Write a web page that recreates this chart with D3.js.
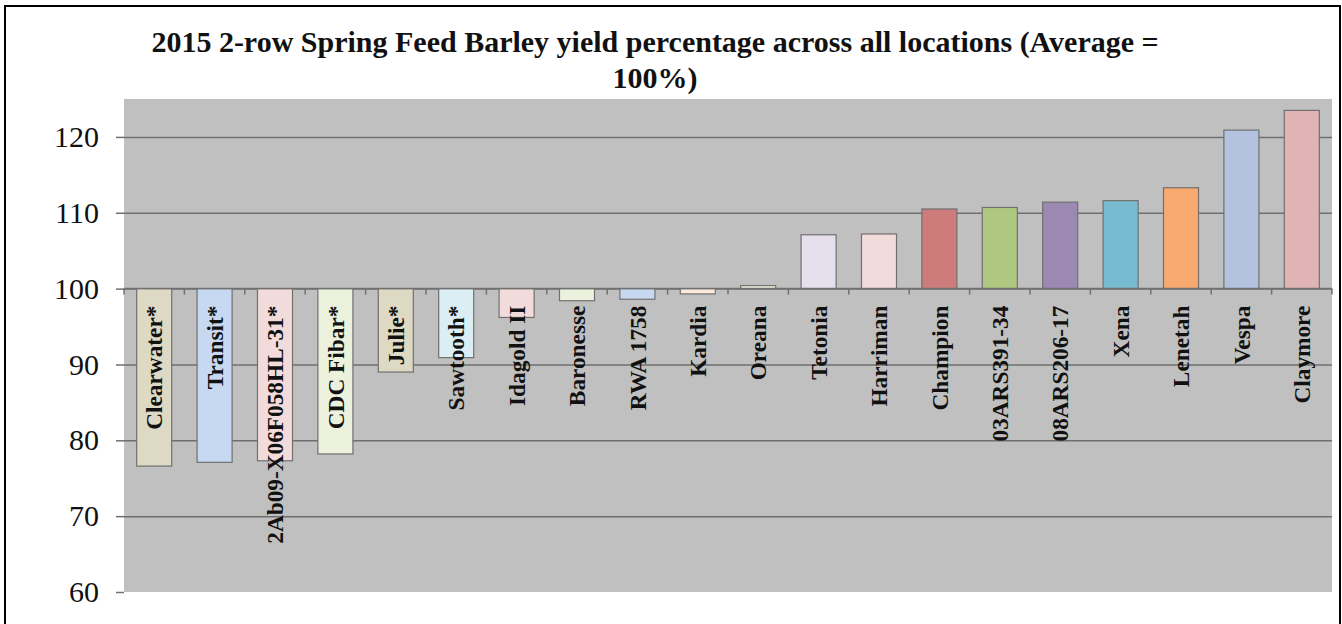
<!DOCTYPE html>
<html>
<head>
<meta charset="utf-8">
<script src="https://cdn.jsdelivr.net/npm/d3@7"></script>
<style>
  body { margin: 0; background: #fff; }
  svg text { font-family: "Liberation Serif", "Times New Roman", Times, serif !important; }
</style>
</head>
<body>
<div id="grafico"></div>
<script>
var varieties = ["Clearwater*", "Transit*", "2Ab09-X06F058HL-31*", "CDC Fibar*", "Julie*", "Sawtooth*",
    "Idagold II", "Baronesse", "RWA 1758", "Kardia", "Oreana", "Tetonia", "Harriman", "Champion",
    "03ARS391-34", "08ARS206-17", "Xena", "Lenetah", "Vespa", "Claymore"]
var yieldPct = [76.6, 77.1, 77.3, 78.2, 89.0, 90.9, 96.2, 98.4, 98.6, 99.3, 100.4, 107.1, 107.2, 110.5,
    110.7, 111.4, 111.6, 113.3, 120.9, 123.5]
var barColors = ["#ddd9c4", "#c6d9f0", "#f2dcdb", "#ebf1dd", "#ddd9c3", "#dbeef3", "#f2dcdb", "#ebf1dd",
    "#c6d9f1", "#fde9d9", "#ebf1dd", "#e5e0ec", "#f2dcdb", "#cd7c7b", "#afc881", "#9b89b4", "#78bbd0",
    "#f7a96f", "#b3c2de", "#e0b4b5"]
var yTicks = [60, 70, 80, 90, 100, 110, 120]
var titleLines = ["2015 2-row Spring Feed Barley yield percentage across all locations (Average =", "100%)"]
var baseline = 100

function chart() {
    var width = 1342,
        height = 624
    var left = 124, right = 1332, top = 99, bottom = 592

    var data = varieties.map(function(d, i) {
        return { name: d, value: yieldPct[i], color: barColors[i] }
    })

    var svg = d3.select("#grafico").append("svg")
        .attr("width", width)
        .attr("height", height)

    // outer frame
    svg.append("rect")
        .attr("x", 5).attr("y", 6)
        .attr("width", 1335).attr("height", 660)
        .attr("fill", "#fff")
        .attr("stroke", "#000")
        .attr("stroke-width", 2)

    var x = d3.scaleBand().domain(varieties).range([left, right])
        .paddingInner(0.42).paddingOuter(0.21)
    var y = d3.scaleLinear().domain([60, 125]).range([bottom, top])

    svg.append("rect")
        .attr("x", left).attr("y", top)
        .attr("width", right - left).attr("height", bottom - top)
        .attr("fill", "#c0c0c0")

    // y axis with gridlines
    var yAxis = svg.append("g")
        .attr("transform", "translate(" + left + ",0)")
        .call(d3.axisLeft(y).tickValues(yTicks).tickSize(8).tickPadding(17))
    yAxis.attr("font-family", null)
    yAxis.select(".domain").remove()
    yAxis.selectAll(".tick line").attr("stroke", "#6f6f6f").attr("stroke-width", 1.5)
    yAxis.selectAll(".tick text")
        .attr("font-size", 30)
        .attr("fill", "#111")
    yAxis.selectAll(".tick").append("line")
        .attr("x1", 0).attr("x2", right - left)
        .attr("stroke", function(d) { return d === 60 ? "none" : "#6f6f6f" })
        .attr("stroke-width", 1.5)

    // bars from the 100% line
    svg.selectAll(".bar")
        .data(data)
        .enter()
        .append("rect")
        .attr("class", "bar")
        .attr("x", function(d) { return x(d.name) })
        .attr("width", x.bandwidth())
        .attr("y", function(d) { return y(Math.max(d.value, baseline)) })
        .attr("height", function(d) { return Math.abs(y(d.value) - y(baseline)) })
        .attr("fill", function(d) { return d.color })
        .attr("stroke", "#707070")
        .attr("stroke-width", 1.2)

    // category axis at 100
    var y0 = y(baseline)
    svg.append("line")
        .attr("x1", left).attr("x2", right)
        .attr("y1", y0).attr("y2", y0)
        .attr("stroke", "#707070").attr("stroke-width", 1.5)
    svg.selectAll(".cattick")
        .data(d3.range(varieties.length + 1))
        .enter()
        .append("line")
        .attr("x1", function(i) { return left + i * x.step() })
        .attr("x2", function(i) { return left + i * x.step() })
        .attr("y1", y0).attr("y2", y0 + 6)
        .attr("stroke", "#707070").attr("stroke-width", 1.5)

    svg.selectAll(".cat")
        .data(data)
        .enter()
        .append("text")
        .attr("class", "cat")
        .attr("transform", function(d) {
            return "translate(" + (x(d.name) + x.bandwidth() / 2) + "," + (y0 + 17) + ") rotate(-90)"
        })
        .attr("dy", "0.35em")
        .attr("text-anchor", "end")
        .attr("font-size", 23.3)
        .attr("font-weight", "bold")
        .attr("fill", "#111")
        .text(function(d) { return d.name })

    svg.selectAll(".title")
        .data(titleLines)
        .enter()
        .append("text")
        .attr("class", "title")
        .attr("x", 655)
        .attr("y", function(d, i) { return 52 + i * 36 })
        .attr("text-anchor", "middle")
        .attr("font-size", 30)
        .attr("font-weight", "bold")
        .attr("fill", "#111")
        .text(function(d) { return d })
}
chart();
</script>
</body>
</html>
